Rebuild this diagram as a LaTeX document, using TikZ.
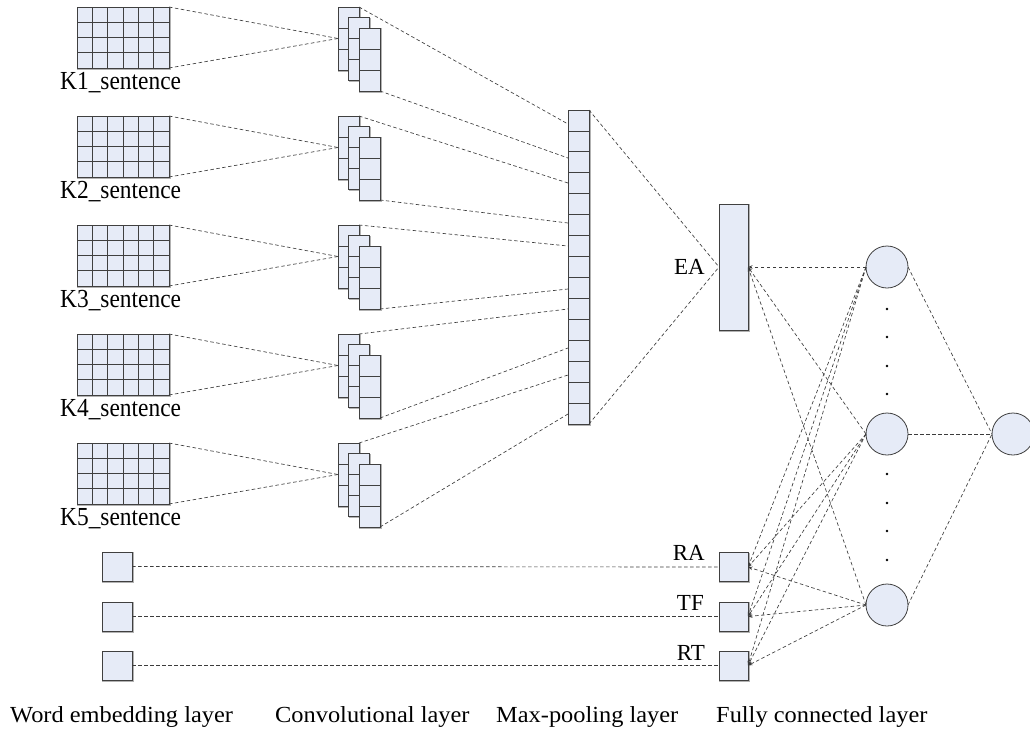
\documentclass[tikz,border=0pt]{standalone}
\usepackage{fontspec}
\setmainfont{Liberation Serif}
\usetikzlibrary{arrows.meta,calc}
\definecolor{boxfill}{RGB}{230,235,247}
\definecolor{boxline}{RGB}{64,64,64}
\definecolor{dashcol}{RGB}{60,60,60}
\tikzset{
  box/.style={draw=boxline, fill=boxfill, line width=0.8pt, inner sep=0pt, outer sep=0pt, rectangle,
    preaction={draw=black!30, line width=1.2pt, transform canvas={shift={(0.9pt,-0.9pt)}}}},
  cellline/.style={draw=boxline, line width=0.8pt},
  neuron/.style={draw=boxline, fill=boxfill, line width=0.8pt, circle, minimum size=42pt, inner sep=0pt, outer sep=0pt},
  dline/.style={draw=dashcol, line width=0.65pt, dash pattern=on 3.5pt off 2.5pt},
  arr/.style={dline, -{Stealth[length=4.5pt,width=3.5pt,open]}},
  lab/.style={font=\fontsize{23}{23}\selectfont, inner sep=0pt},
  klab/.style={font=\fontsize{26}{26}\selectfont, inner sep=0pt, anchor=base west},
  blab/.style={font=\fontsize{23}{23}\selectfont, inner sep=0pt, anchor=base west},
}
\begin{document}
\begin{tikzpicture}[x=1pt,y=-1pt]
\useasboundingbox (0,0) rectangle (1030,731);
\clip (0,0) rectangle (1030,731);
\fill[white] (0,0) rectangle (1030,731);

% max-pooling column
\node[box, anchor=north west, minimum width=21pt, minimum height=314pt] (pool) at (568,110) {};
\foreach \i in {1,...,14}{
  \draw[cellline] ($(pool.north west)!\i/15!(pool.south west)$) -- ($(pool.north east)!\i/15!(pool.south east)$);
}

% pooling input points
\foreach \k/\ya/\yb in {1/124/158, 2/183/223, 3/246/289, 4/309/348, 5/375/414}{
  \coordinate (pt\k) at (568,\ya);
  \coordinate (pb\k) at (568,\yb);
}

% word embedding grids and convolution stacks
\foreach \k in {1,...,5}{
  \pgfmathsetmacro{\dy}{109*(\k-1)}
  \node[box, anchor=north west, minimum width=92pt, minimum height=61pt] (g\k) at (77,7+\dy) {};
  \foreach \i in {1,...,5}{
    \draw[cellline] ($(g\k.north west)!\i/6!(g\k.north east)$) -- ($(g\k.south west)!\i/6!(g\k.south east)$);
  }
  \foreach \i in {1,2,3}{
    \draw[cellline] ($(g\k.north west)!\i/4!(g\k.south west)$) -- ($(g\k.north east)!\i/4!(g\k.south east)$);
  }
  \node[klab] (kl\k) at (60,89.5+\dy) {\scalebox{0.9}[1]{K\k\_sentence}};
  % conv stack
  \foreach \r/\ox/\oy in {a/0/0, b/10.5/10.5, c/21/21}{
    \node[box, anchor=north west, minimum width=21pt, minimum height=63pt] (c\k\r) at (338+\ox,7+\dy+\oy) {};
    \foreach \i in {1,2}{
      \draw[cellline] ($(c\k\r.north west)!\i/3!(c\k\r.south west)$) -- ($(c\k\r.north east)!\i/3!(c\k\r.south east)$);
    }
  }
  \draw[dline] (g\k.north east) -- (c\k a.west);
  \draw[dline] (g\k.south east) -- (c\k a.west);
  \draw[dline] (c\k a.north east) -- (pt\k);
  \draw[dline] (c\k c.south east) -- (pb\k);
}

% EA
\node[box, anchor=north west, minimum width=29pt, minimum height=126pt] (EA) at (719,204) {};
\node[lab, anchor=base east] (EAl) at (705,274) {EA};
\draw[dline] (pool.north east) -- (EA.west);
\draw[dline] (pool.south east) -- (EA.west);

% extra features
\node[box, anchor=north west, minimum width=30pt, minimum height=29pt] (s1) at (102,552) {};
\node[box, anchor=north west, minimum width=30pt, minimum height=29pt] (s2) at (102,602) {};
\node[box, anchor=north west, minimum width=30pt, minimum height=29pt] (s3) at (102,651) {};
\node[box, anchor=north west, minimum width=29pt, minimum height=29pt] (RA) at (719,552.5) {};
\node[box, anchor=north west, minimum width=29pt, minimum height=29pt] (TF) at (719,602) {};
\node[box, anchor=north west, minimum width=29pt, minimum height=29pt] (RT) at (719,651) {};
\node[lab, anchor=base east] (RAl) at (705,560) {RA};
\node[lab, anchor=base east] (TFl) at (704,610) {TF};
\node[lab, anchor=base east] (RTl) at (705,660) {RT};
\draw[dline] (s1.east) -- (RA.west);
\draw[dline] (s2.east) -- (TF.west);
\draw[dline] (s3.east) -- (RT.west);

% hidden neurons and output
\node[neuron] (n1) at (887,267) {};
\node[neuron] (n2) at (887,434) {};
\node[neuron] (n3) at (887,605) {};
\node[neuron] (out) at (1013,434) {};
\foreach \y in {309,337,366,394,474,503,531,560}{
  \fill[black] (887,\y) circle (1.3pt);
}
\foreach \b in {EA,RA,TF,RT}{
  \foreach \n in {n1,n2,n3}{
    \draw[arr] (\n.west) -- (\b.east);
  }
}
\foreach \n in {n1,n2,n3}{
  \draw[dline] (\n.east) -- (out.west);
}

% layer captions
\node[blab] (t1) at (10,722) {\scalebox{1.06}[1]{Word embedding layer}};
\node[blab] (t2) at (275,722) {\scalebox{1.06}[1]{Convolutional layer}};
\node[blab] (t3) at (496,722) {\scalebox{1.06}[1]{Max-pooling layer}};
\node[blab] (t4) at (716,722) {\scalebox{1.06}[1]{Fully connected layer}};
\end{tikzpicture}
\end{document}
